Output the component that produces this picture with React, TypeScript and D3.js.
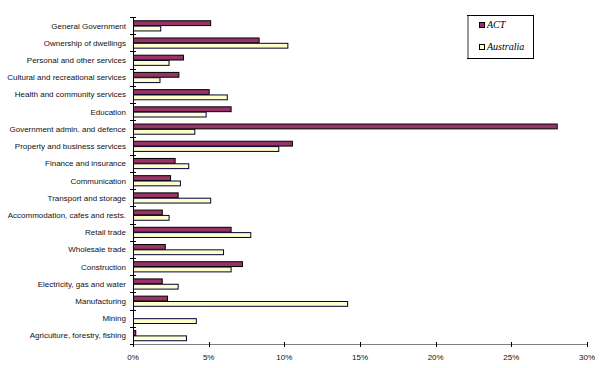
import React from "react";
import * as d3 from "d3";

const categories = [
  "General Government",
  "Ownership of dwellings",
  "Personal and other services",
  "Cultural and recreational services",
  "Health and community services",
  "Education",
  "Government admin. and defence",
  "Property and business services",
  "Finance and insurance",
  "Communication",
  "Transport and storage",
  "Accommodation, cafes and rests.",
  "Retail trade",
  "Wholesale trade",
  "Construction",
  "Electricity, gas and water",
  "Manufacturing",
  "Mining",
  "Agriculture, forestry, fishing",
];

const seriesNames = ["ACT", "Australia"];

// Share of employment by industry (%)
const actValues = [5.1, 8.3, 3.3, 3.0, 5.0, 6.45, 28.0, 10.5, 2.75, 2.45, 2.95, 1.9, 6.45, 2.1, 7.2, 1.9, 2.25, 0.0, 0.15];
const australiaValues = [1.8, 10.2, 2.35, 1.75, 6.2, 4.8, 4.05, 9.6, 3.65, 3.1, 5.1, 2.35, 7.75, 5.95, 6.45, 2.95, 14.15, 4.15, 3.5];

const xTicks = [0, 5, 10, 15, 20, 25, 30];

const W = 600;
const H = 368;
const left = 133;
const right = 587;
const top = 17;
const bottom = 344;

const fills = ["#993366", "#FFFFCC"];
const strokes = ["#000000", "#000033"];

export default function App() {
  const x = d3.scaleLinear().domain([0, 30]).range([left, right]);
  const y = d3
    .scaleBand<string>()
    .domain(categories)
    .range([top, bottom])
    .paddingInner(0.38)
    .paddingOuter(0.19);
  const sub = d3.scaleBand<string>().domain(seriesNames).range([0, y.bandwidth()]);
  const step = (bottom - top) / categories.length;
  const series = [actValues, australiaValues];
  const fmt = (v: number) => `${v}%`;

  return (
    <svg
      width={W}
      height={H}
      style={{ position: "absolute", left: 0, top: 0, background: "#fff" }}
      fontFamily="'Liberation Sans', Arial, sans-serif"
    >
      <rect width={W} height={H} fill="#fff" />
      {/* bars */}
      {categories.map((c, i) => (
        <g key={c}>
          {series.map((vals, s) => {
            const w = x(vals[i]) - x(0);
            if (w <= 0.2) return null;
            return (
              <rect
                key={s}
                x={x(0) + 0.5}
                y={(y(c) as number) + (sub(seriesNames[s]) as number) + 0.5}
                width={w}
                height={sub.bandwidth() - 0.5}
                fill={fills[s]}
                stroke={strokes[s]}
                strokeWidth={1}
              />
            );
          })}
          <text
            x={126}
            y={(y(c) as number) + y.bandwidth() / 2 + 3}
            textAnchor="end"
            fontSize={8}
            fill="#111"
          >
            {c}
          </text>
        </g>
      ))}
      {/* category axis */}
      <line x1={left + 0.5} x2={left + 0.5} y1={top} y2={bottom} stroke="#000" />
      {d3.range(categories.length + 1).map((i) => (
        <line
          key={i}
          x1={left - 3}
          x2={left + 3}
          y1={Math.round(top + i * step) + 0.5}
          y2={Math.round(top + i * step) + 0.5}
          stroke="#000"
        />
      ))}
      {/* value axis */}
      <line x1={left} x2={right} y1={bottom + 0.5} y2={bottom + 0.5} stroke="#808080" />
      {xTicks.map((t) => (
        <g key={t}>
          <line
            x1={Math.round(x(t)) + 0.5}
            x2={Math.round(x(t)) + 0.5}
            y1={bottom - 2}
            y2={bottom + 3}
            stroke="#000"
          />
          <text x={x(t)} y={bottom + 16} textAnchor="middle" fontSize={8} fill="#111">
            {fmt(t)}
          </text>
        </g>
      ))}
      {/* legend */}
      <g>
        <rect x={467.5} y={15.5} width={66} height={43} fill="#fff" stroke="#000" />
        <line x1={468} x2={468} y1={16} y2={58} stroke="#999" strokeWidth={2} />
        {seriesNames.map((n, s) => (
          <g key={n} transform={`translate(0, ${s * 22})`}>
            <rect x={479.5} y={22.5} width={5} height={5} fill={fills[s]} stroke="#000" />
            <text
              x={487}
              y={28}
              fontSize={10}
              fontStyle="italic"
              fontFamily="'Liberation Serif', 'Times New Roman', serif"
              fill="#000"
            >
              {n}
            </text>
          </g>
        ))}
      </g>
    </svg>
  );
}
